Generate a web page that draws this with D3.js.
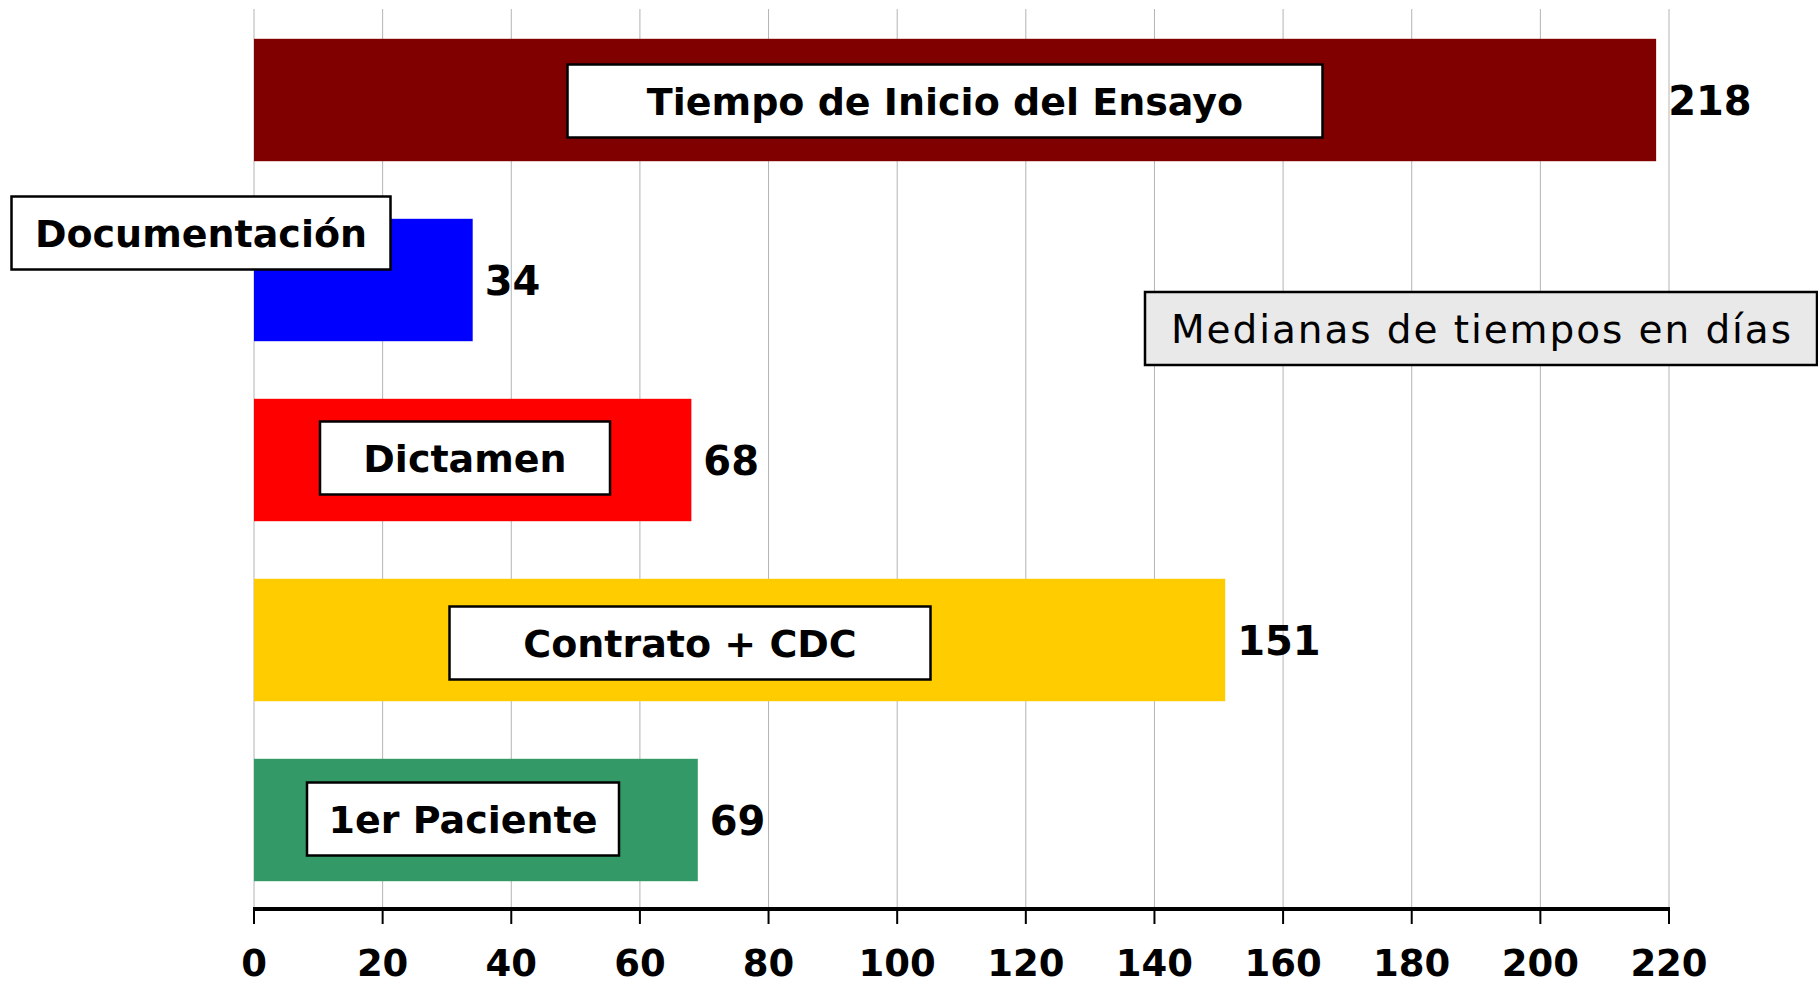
<!DOCTYPE html>
<html>
<head lang="es">
    <meta charset="UTF-8">
    <title>Medianas de tiempos en días</title>
    <script src="https://d3js.org/d3.v7.min.js"></script>
    <style>
        body { margin: 0; background: #fff; }
        text { font-family: "DejaVu Sans", Verdana, sans-serif; }
    </style>
</head>
<body>
<div id="chartContainer"></div>
<script type="text/javascript">
    // data
    var etapas = ["Tiempo de Inicio del Ensayo", "Documentación", "Dictamen", "Contrato + CDC", "1er Paciente"];
    var dias = [218, 34, 68, 151, 69];
    var colores = ["#800000", "#0000ff", "#ff0000", "#ffcc00", "#339966"];
    var ticks = [0, 20, 40, 60, 80, 100, 120, 140, 160, 180, 200, 220];

    var W = 1818, H = 981;
    var svg = d3.select("#chartContainer").append("svg")
        .attr("width", W).attr("height", H);

    var x = d3.scaleLinear().domain([0, 220]).range([254, 1669]);
    var y = d3.scaleBand().domain(etapas).range([10, 910])
        .paddingInner(0.32).paddingOuter(0.16);

    // gridlines
    svg.append("g").selectAll("line")
        .data(ticks)
        .enter().append("line")
        .attr("x1", function (d) { return x(d); })
        .attr("x2", function (d) { return x(d); })
        .attr("y1", 9).attr("y2", 909)
        .style("stroke", "#b4b4b4")
        .style("stroke-width", 1);

    // bars
    svg.append("g").selectAll("rect")
        .data(etapas)
        .enter().append("rect")
        .attr("x", x(0))
        .attr("y", function (d) { return y(d); })
        .attr("width", function (d, i) { return x(dias[i]) - x(0); })
        .attr("height", y.bandwidth())
        .style("fill", function (d, i) { return colores[i]; });

    // value labels
    svg.append("g").selectAll("text")
        .data(etapas)
        .enter().append("text")
        .attr("x", function (d, i) { return x(dias[i]) + 12; })
        .attr("y", function (d) { return y(d) + y.bandwidth() / 2 + 15; })
        .style("font-size", "40px")
        .style("font-weight", "bold")
        .text(function (d, i) { return dias[i]; });

    // x axis
    var axis = svg.append("g").attr("transform", "translate(0,909)");
    axis.append("line")
        .attr("x1", x(0) - 1).attr("x2", x(220) + 1)
        .style("stroke", "#000").style("stroke-width", 4);
    axis.selectAll(".tk")
        .data(ticks)
        .enter().append("line")
        .attr("x1", function (d) { return x(d); })
        .attr("x2", function (d) { return x(d); })
        .attr("y1", 0).attr("y2", 15)
        .style("stroke", "#000").style("stroke-width", 2);
    axis.selectAll(".tl")
        .data(ticks)
        .enter().append("text")
        .attr("x", function (d) { return x(d); })
        .attr("y", 67)
        .attr("text-anchor", "middle")
        .style("font-size", "37px")
        .style("font-weight", "bold")
        .text(function (d) { return d; });

    // name boxes on the bars (centre x in px, width, vertical shift from bar centre)
    var cajas = [
        {cx: 945, w: 755, dy: 1},
        {cx: 201, w: 379, dy: -47},
        {cx: 465, w: 290, dy: -2},
        {cx: 690, w: 481, dy: 3},
        {cx: 463, w: 312, dy: -1}
    ];
    var g = svg.append("g");
    etapas.forEach(function (e, i) {
        var c = cajas[i];
        var cy = y(e) + y.bandwidth() / 2 + c.dy;
        g.append("rect")
            .attr("x", c.cx - c.w / 2).attr("y", cy - 36.5)
            .attr("width", c.w).attr("height", 73)
            .style("fill", "#fff").style("stroke", "#000").style("stroke-width", 2.5);
        g.append("text")
            .attr("x", c.cx).attr("y", cy + 14)
            .attr("text-anchor", "middle")
            .style("font-size", "38px")
            .style("font-weight", "bold")
            .text(e);
    });

    // note box
    svg.append("rect")
        .attr("x", 1145).attr("y", 292)
        .attr("width", 672).attr("height", 73)
        .style("fill", "#e9e9e9").style("stroke", "#000").style("stroke-width", 2.5);
    svg.append("text")
        .attr("x", 1481).attr("y", 343)
        .attr("text-anchor", "middle")
        .attr("textLength", 620)
        .attr("lengthAdjust", "spacing")
        .style("font-size", "39px")
        .text("Medianas de tiempos en días");
</script>
</body>
</html>
